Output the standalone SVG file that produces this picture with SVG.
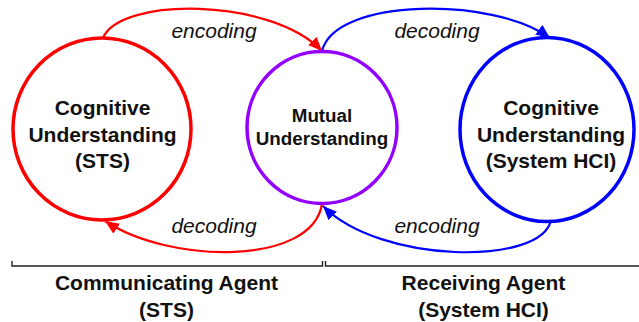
<svg xmlns="http://www.w3.org/2000/svg" width="639" height="322" viewBox="0 0 639 322">
<style>
.node{fill:none;stroke-width:3.5}
.lbl{font-family:"Liberation Sans",Arial,sans-serif;font-weight:bold;fill:#111;text-anchor:middle}
.it{font-family:"Liberation Sans",Arial,sans-serif;font-style:italic;font-size:21px;fill:#111;text-anchor:middle}
.arr{fill:none;stroke-width:2.2}
.br{fill:none;stroke:#222;stroke-width:1.4}
</style>
<defs>
<marker id="ar" markerUnits="userSpaceOnUse" markerWidth="16" markerHeight="12" refX="14" refY="6" orient="auto">
<path d="M0,0 L14,6 L0,12 Z" fill="#ff0000"/>
</marker>
<marker id="ab" markerUnits="userSpaceOnUse" markerWidth="16" markerHeight="12" refX="14" refY="6" orient="auto">
<path d="M0,0 L14,6 L0,12 Z" fill="#0000ff"/>
</marker>
</defs>
<rect width="639" height="322" fill="#fff"/>
<g id="connectors">
<path class="arr" stroke="#ff0000" d="M103,38 C120,-3 270,-3 322,51" marker-end="url(#ar)"/>
<path class="arr" stroke="#0000ff" d="M322,51 C335,-3 495,-3 550,38" marker-end="url(#ab)"/>
<path class="arr" stroke="#ff0000" d="M322,204 C312,266 170,264 105,221" marker-end="url(#ar)"/>
<path class="arr" stroke="#0000ff" d="M551,220 C542,266 380,264 323,206" marker-end="url(#ab)"/>
<text class="it" x="214" y="38">encoding</text>
<text class="it" x="437" y="38">decoding</text>
<text class="it" x="214" y="233">decoding</text>
<text class="it" x="437" y="233">encoding</text>
</g>
<g id="node-sts">
<ellipse class="node" stroke="#ff0000" cx="102" cy="129" rx="89" ry="91"/>
<text class="lbl" font-size="21" x="102.5" y="115">Cognitive</text>
<text class="lbl" font-size="21" x="102.5" y="142">Understanding</text>
<text class="lbl" font-size="21" x="102.5" y="168">(STS)</text>
</g>
<g id="node-mutual">
<ellipse class="node" stroke="#9400ff" cx="322" cy="127.5" rx="75" ry="76"/>
<text class="lbl" font-size="18.8" x="322" y="122">Mutual</text>
<text class="lbl" font-size="18.8" x="322" y="145">Understanding</text>
</g>
<g id="node-hci">
<ellipse class="node" stroke="#0000ff" cx="547" cy="129.5" rx="87" ry="92"/>
<text class="lbl" font-size="21" x="551" y="115">Cognitive</text>
<text class="lbl" font-size="21" x="551" y="142">Understanding</text>
<text class="lbl" font-size="21" x="551" y="168">(System HCI)</text>
</g>
<g id="agent-communicating">
<path class="br" d="M12,261 V266 H322.5 V261"/>
<text class="lbl" font-size="21" x="166.5" y="290">Communicating Agent</text>
<text class="lbl" font-size="21" x="166.5" y="317">(STS)</text>
</g>
<g id="agent-receiving">
<path class="br" d="M325.5,261 V266 H639"/>
<text class="lbl" font-size="21" x="483.5" y="290">Receiving Agent</text>
<text class="lbl" font-size="21" x="483.5" y="317">(System HCI)</text>
</g>
</svg>
